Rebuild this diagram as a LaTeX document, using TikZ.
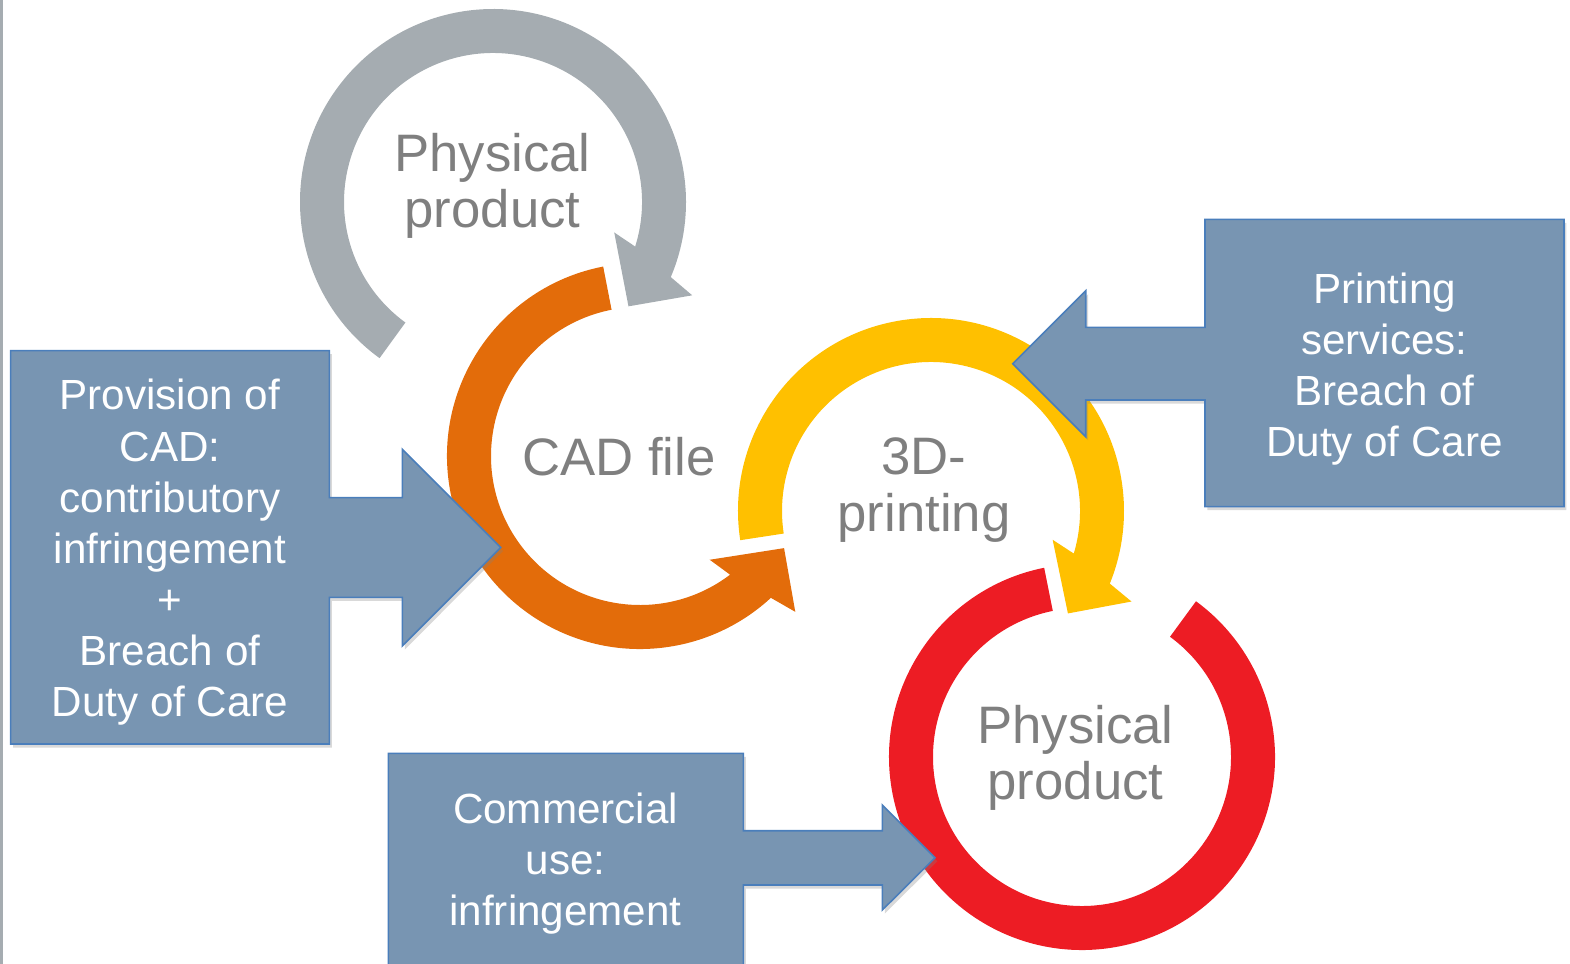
\documentclass[tikz,border=0pt]{standalone}
\usepackage{fontspec}
\setmainfont{Liberation Sans}
\usepackage{tikz}
\usetikzlibrary{shadows}
\definecolor{ringgray}{HTML}{A5ACB1}
\definecolor{ringorange}{HTML}{E36C0A}
\definecolor{ringyellow}{HTML}{FFC000}
\definecolor{ringred}{HTML}{ED1C24}
\definecolor{boxblue}{HTML}{7895B2}
\definecolor{boxedge}{HTML}{4A7EBB}
\definecolor{labelgray}{HTML}{7F7F7F}
\newcommand{\ringarrow}[5]{%
  \pgfmathsetmacro{\rao}{#4-(#5)*14.7}
  \pgfmathsetmacro{\rab}{#4-(#5)*12.5}
  \pgfmathsetmacro{\rai}{#4-(#5)*23.5}
  \pgfmathsetmacro{\ran}{#4-(#5)*20.2}
  \fill[#1, shift={(#2)}] (#3:1.93) arc[start angle=#3, end angle=\rao, radius=1.93]
    -- (\rab:2.20) -- (#4:1.71) -- (\rai:1.25) -- (\ran:1.49)
    arc[start angle=\ran, end angle=#3, radius=1.49] -- cycle;
}

\begin{document}
\begin{tikzpicture}[
  ringlabel/.style={text=labelgray, align=center, inner sep=0pt,
    font=\fontsize{15}{16.1}\selectfont},
  boxlabel/.style={text=white, align=center, inner sep=0pt,
    font=\fontsize{12}{14.55}\selectfont},
  callout/.style={fill=boxblue, draw=boxedge, line width=0.45pt,
    drop shadow={shadow xshift=0.7pt, shadow yshift=-1pt, opacity=0.3}}
]
\useasboundingbox (0,0) rectangle (15.70,-9.64);
\fill[ringgray] (0,0) rectangle (0.03,-9.64);

\coordinate (grayc) at (4.93,-2.02);
\coordinate (orangec) at (6.40,-4.56);
\coordinate (yellowc) at (9.31,-5.11);
\coordinate (redc) at (10.82,-7.57);

\ringarrow{ringgray}{grayc}{234}{-37.6}{-1}
\ringarrow{ringorange}{orangec}{101}{327.4}{1}
\ringarrow{ringyellow}{yellowc}{188.7}{-36.8}{-1}
\fill[ringred, shift={(redc)}] (101.3:1.93) arc[start angle=101.3, end angle=413.8, radius=1.93]
  -- (413.8:1.49) arc[start angle=413.8, end angle=101.3, radius=1.49] -- cycle;

\filldraw[callout] (0.107,-3.507) -- (3.293,-3.507) -- (3.293,-4.977) -- (4.023,-4.977)
  -- (4.023,-4.493) -- (5.007,-5.475) -- (4.023,-6.46) -- (4.023,-5.973)
  -- (3.293,-5.973) -- (3.293,-7.44) -- (0.107,-7.44) -- cycle;
\filldraw[callout] (12.05,-2.193) -- (15.64,-2.193) -- (15.64,-5.067) -- (12.05,-5.067)
  -- (12.05,-4.00) -- (10.857,-4.00) -- (10.857,-4.367) -- (10.127,-3.637)
  -- (10.857,-2.907) -- (10.857,-3.273) -- (12.05,-3.273) -- cycle;
\filldraw[callout] (3.883,-7.533) -- (7.433,-7.533) -- (7.433,-8.307) -- (8.823,-8.307)
  -- (8.823,-8.05) -- (9.35,-8.577) -- (8.823,-9.10) -- (8.823,-8.85)
  -- (7.433,-8.85) -- (7.433,-9.70) -- (3.883,-9.70) -- cycle;

\node[ringlabel] (physical) at (4.925,-1.86) {Physical\\product};
\node[ringlabel] (cadfile) at (6.19,-4.57) {CAD file};
\node[ringlabel] (printing) at (9.24,-4.898) {3D-\\printing};
\node[ringlabel] (product) at (10.755,-7.577) {Physical\\product};

\node[boxlabel] (provision) at (1.70,-5.525) {Provision of\\CAD:\\contributory\\infringement\\+\\Breach of\\Duty of Care};
\node[boxlabel] (services) at (13.845,-3.69) {Printing\\services:\\Breach of\\Duty of Care};
\node[boxlabel] (commercial) at (5.655,-8.633) {Commercial\\use:\\infringement};
\end{tikzpicture}
\end{document}
